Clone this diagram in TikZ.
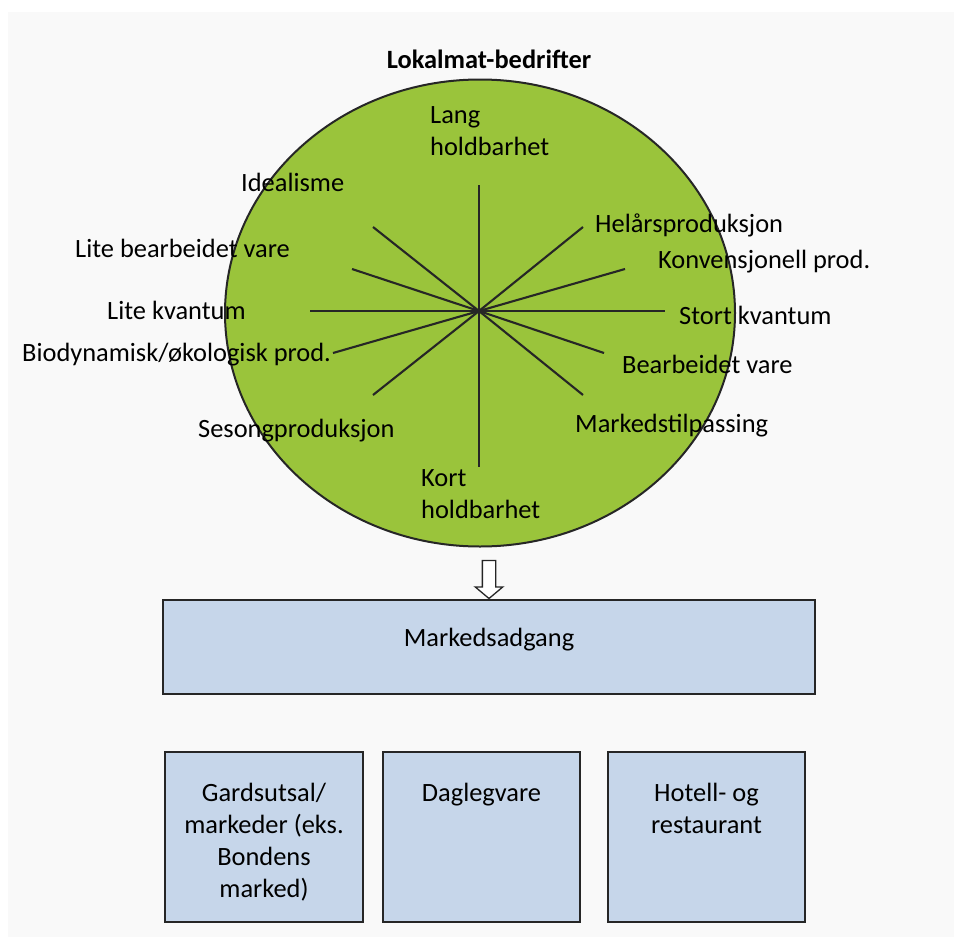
\documentclass[tikz,border=0pt]{standalone}
\usepackage{fontspec}
\setmainfont{Carlito}
\usetikzlibrary{shapes.geometric, shapes.arrows, positioning, calc}
\definecolor{firmgreen}{HTML}{9AC43B}
\definecolor{marketblue}{HTML}{C6D6EA}
\definecolor{pagegray}{HTML}{F9F9F9}
\definecolor{linedark}{HTML}{262626}

\begin{document}
\begin{tikzpicture}[
  x=1pt, y=-1pt,
  txt/.style={font=\fontsize{26.4}{32}\selectfont, inner sep=0pt},
  spoke/.style={draw=linedark, line width=2.1pt},
  chan/.style={
    rectangle, draw=linedark, line width=1.3pt, fill=marketblue,
    minimum width=#1, minimum height=170pt, inner sep=0pt
  }
]
  \useasboundingbox (0,0) rectangle (954,937);
  \fill[pagegray] (8,12) rectangle (954,937);

  % Firm profile
  \node[ellipse, draw=linedark, line width=2pt, fill=firmgreen,
        minimum width=510pt, minimum height=467pt] (firm) at (480,313) {};
  \node[txt, font=\fontsize{26.4}{32}\selectfont\bfseries, anchor=base] (title) at (489,68) {Lokalmat-bedrifter};

  \coordinate (hub) at (479,311);
  \foreach \ex/\ey in {479/185, 479/467, 310/311, 665/311, 373/227, 583/227,
                       352/269, 625/269, 333/353, 604/353, 373/395, 583/395}
    \draw[spoke] (hub) -- (\ex,\ey);

  \node[txt, align=left, anchor=base west] (lang) at (430,155) {Lang\\holdbarhet};
  \node[txt, align=left, anchor=base west] (kort) at (421,518) {Kort\\holdbarhet};
  \node[txt, anchor=base west] (ideal) at (241,191) {Idealisme};
  \node[txt, anchor=base west] (litebe) at (75,257) {Lite bearbeidet vare};
  \node[txt, anchor=base west] (litekv) at (107,319) {Lite kvantum};
  \node[txt, anchor=base west] (bio) at (22,361) {Biodynamisk/økologisk prod.};
  \node[txt, anchor=base west] (seson) at (198,437) {Sesongproduksjon};
  \node[txt, anchor=base west] (helar) at (595,232) {Helårsproduksjon};
  \node[txt, anchor=base west] (konv) at (658,268) {Konvensjonell prod.};
  \node[txt, anchor=base west] (stort) at (679,324) {Stort kvantum};
  \node[txt, anchor=base west] (bearb) at (622,373) {Bearbeidet vare};
  \node[txt, anchor=base west] (mtilp) at (575,432) {Markedstilpassing};

  % Market access
  \node[chan=652pt, minimum height=94pt] (mkt) at (489,647) {};
  \node[txt, anchor=base] (mktlbl) at (489,646) {Markedsadgang};
  \node[single arrow, draw=linedark, line width=1.3pt, fill=white,
        shape border rotate=270, minimum height=38pt, minimum width=27pt,
        inner sep=6pt, single arrow tip angle=100, anchor=tip] (arr) at (mkt.north) {};

  % Channels below
  \node[chan=198pt] (gard) at (264,837) {};
  \node[chan=197pt] (dagl) at (481.5,837) {};
  \node[chan=197pt] (hotel) at (706.5,837) {};
  \node[txt, align=center, anchor=base] (gardlbl) at (264,897)
    {Gardsutsal/\\markeder (eks.\\Bondens\\marked)};
  \node[txt, anchor=base] (dagllbl) at (481.5,801) {Daglegvare};
  \node[txt, align=center, anchor=base] (hotellbl) at (706.5,833) {Hotell- og\\restaurant};
\end{tikzpicture}
\end{document}
